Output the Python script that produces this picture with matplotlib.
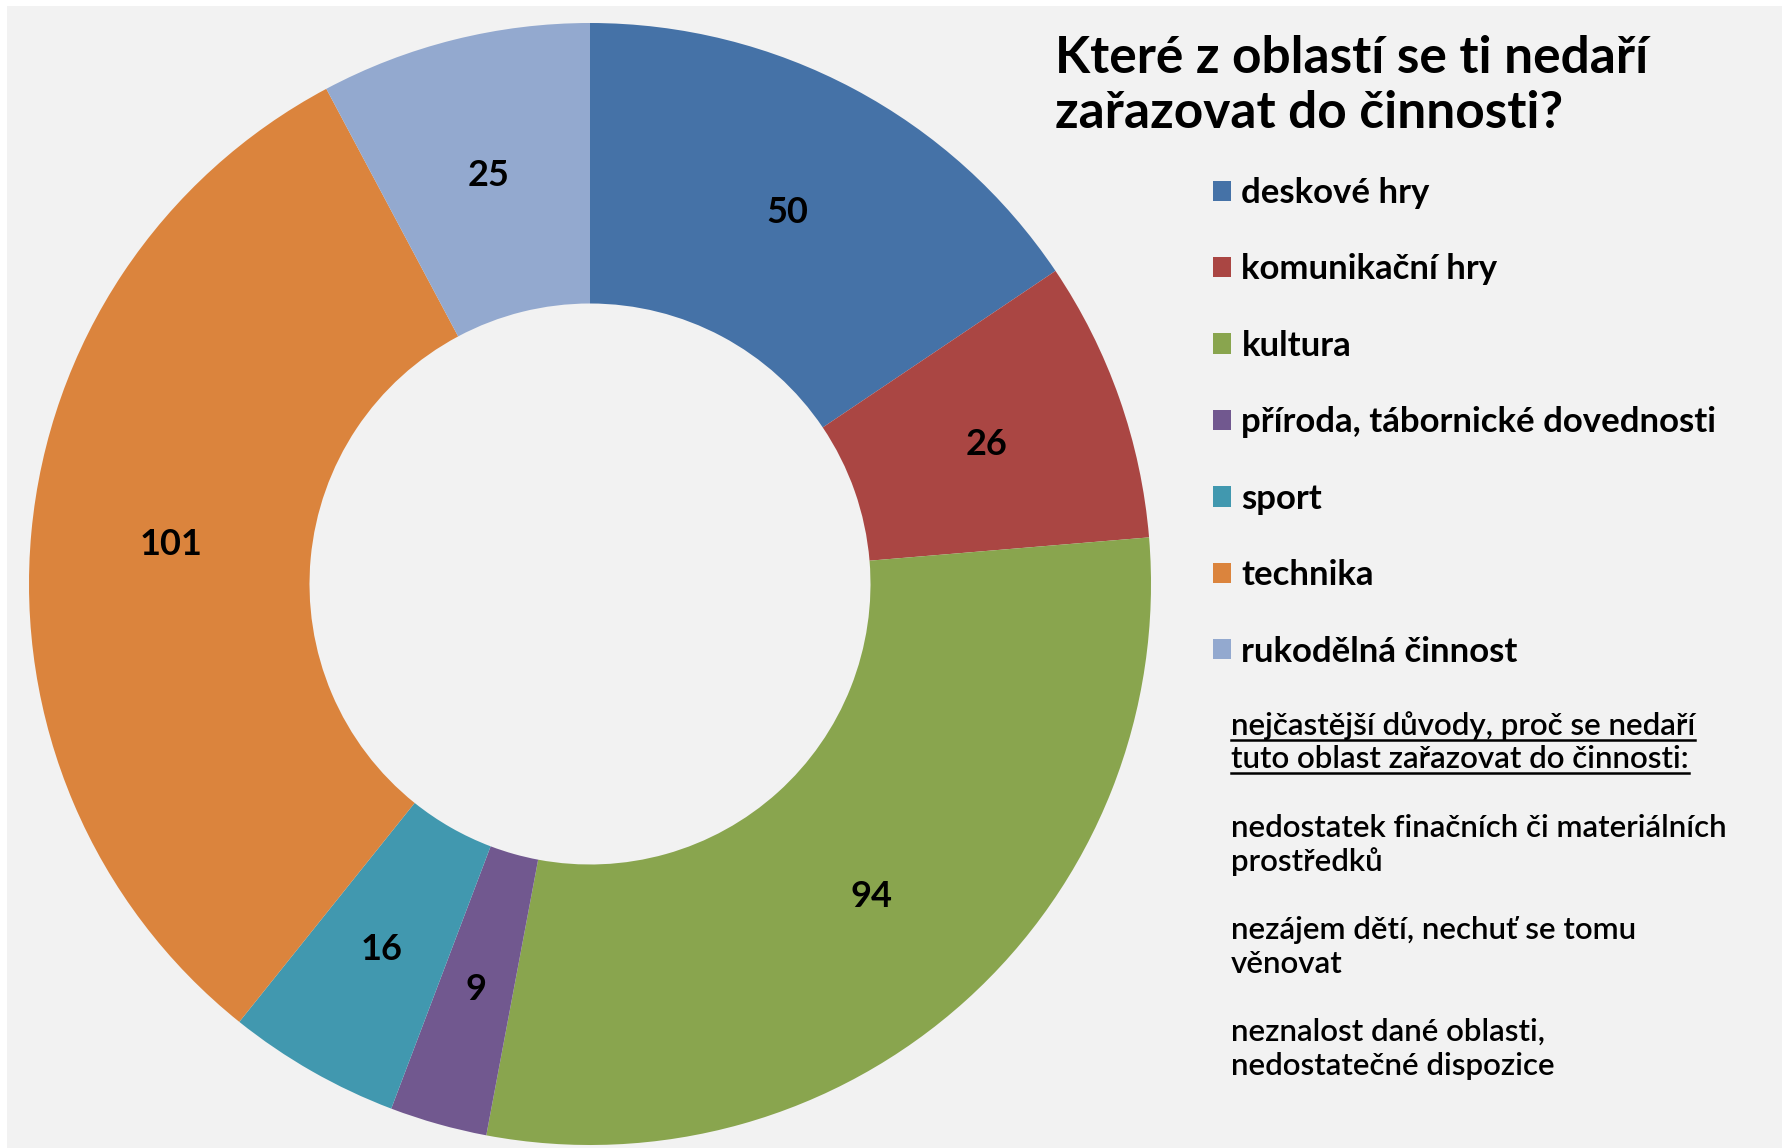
import matplotlib
matplotlib.use("Agg")
import matplotlib.pyplot as plt
from matplotlib.patches import Rectangle
from matplotlib.lines import Line2D
import numpy as np

plt.rcParams['font.family'] = ['Lato', 'DejaVu Sans']

# data
categories = ['deskové hry', 'komunikační hry', 'kultura',
              'příroda, tábornické dovednosti', 'sport', 'technika',
              'rukodělná činnost']
values = [50, 26, 94, 9, 16, 101, 25]
colors = ['#4572A7', '#AA4643', '#89A54E', '#71588F', '#4198AF', '#DB843D', '#93A9CF']

title_lines = ['Které z oblastí se ti nedaří', 'zařazovat do činnosti?']
notes_head = ['nejčastější důvody, proč se nedaří',
              'tuto oblast zařazovat do činnosti:']
notes = [['nedostatek finačních či materiálních', 'prostředků'],
         ['nezájem dětí, nechuť se tomu', 'věnovat'],
         ['neznalost dané oblasti,', 'nedostatečné dispozice']]

W, H = 1783, 1148
fig = plt.figure(figsize=(W / 100, H / 100), dpi=100, facecolor='white')

# grey panel
fig.patches.append(Rectangle((7 / W, 0), 1, (H - 6) / H, transform=fig.transFigure,
                             facecolor='#F2F2F2', edgecolor='none', zorder=-10))

# donut
cx, cy, r = 590, 584, 561
ax = fig.add_axes([(cx - r) / W, (H - cy - r) / H, 2 * r / W, 2 * r / H])
ax.set_facecolor('none')

wedges, _ = ax.pie(values, colors=colors, startangle=90, counterclock=False,
                   radius=1, wedgeprops=dict(width=0.5, edgecolor='none'))
total = sum(values)
ang = 90
for v in values:
    mid = ang - v / total * 180
    ang -= v / total * 360
    ax.text(0.75 * np.cos(np.radians(mid)), 0.75 * np.sin(np.radians(mid)), str(v),
            ha='center', va='center', fontsize=26, fontweight='bold', color='black')
ax.set_xlim(-1, 1)
ax.set_ylim(-1, 1)
ax.axis('off')

# title
for i, line in enumerate(title_lines):
    fig.text(1055 / W, 1 - (73 + i * 55) / H, line, fontsize=37, fontweight='bold',
             ha='left', va='baseline')

# legend
fig.legend(wedges, categories, loc='upper left', bbox_to_anchor=(1213 / W, 1 - 177 / H),
           frameon=False, prop=dict(weight='bold', size=25),
           handlelength=0.52, handleheight=0.52, handletextpad=0.3,
           labelspacing=1.28, borderaxespad=0, borderpad=0)

# notes
fig.canvas.draw()
renderer = fig.canvas.get_renderer()
for i, line in enumerate(notes_head):
    y = 735 + i * 33
    t = fig.text(1231 / W, 1 - y / H, line, fontsize=22.5, fontweight='semibold',
                 ha='left', va='baseline')
    bb = t.get_window_extent(renderer)
    uy = 1 - (y + 5) / H
    fig.lines.append(Line2D([bb.x0 / W, bb.x1 / W], [uy, uy],
                            transform=fig.transFigure, color='black', lw=1.8))

for i, note in enumerate(notes):
    for j, line in enumerate(note):
        y = 837 + i * 102 + j * 34
        fig.text(1231 / W, 1 - y / H, line, fontsize=22.5, fontweight='semibold',
                 ha='left', va='baseline')

fig.savefig('out.png', dpi=100)
